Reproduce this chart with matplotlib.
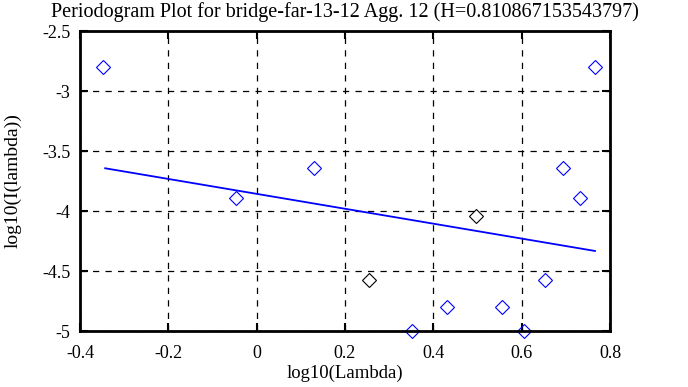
import matplotlib
matplotlib.use("Agg")
import matplotlib.pyplot as plt

plt.rcParams['font.family'] = ['Liberation Serif', 'DejaVu Serif']

# log10 frequency and log10 periodogram
log_lambda = [-0.348, -0.047, 0.129, 0.254, 0.351, 0.430, 0.497,
              0.555, 0.606, 0.652, 0.693, 0.731, 0.766]
log_I = [-2.80, -3.89, -3.64, -4.575, -5.00, -4.80, -4.04,
         -4.80, -5.00, -4.575, -3.64, -3.89, -2.80]
point_colors = ['blue', 'blue', 'blue', 'black', 'blue', 'blue', 'black',
                'blue', 'blue', 'blue', 'blue', 'blue', 'blue']

# fitted regression line end points
fit_x = [-0.343, 0.766]
fit_y = [-3.644, -4.333]

xticks = [-0.4, -0.2, 0, 0.2, 0.4, 0.6, 0.8]
yticks = [-5, -4.5, -4, -3.5, -3, -2.5]

fig = plt.figure(figsize=(6.88, 3.87), dpi=100)
ax = fig.add_axes([80/688, 1-331/387, 530/688, 300/387])

for x, y, c in zip(log_lambda, log_I, point_colors):
    ax.plot(x, y, 'D', ms=7, mfc='none', mec=c, mew=0.8, clip_on=False)
ax.plot(fit_x, fit_y, color='blue', lw=1.3)

ax.set_xlim(-0.4, 0.8)
ax.set_ylim(-5, -2.5)
ax.set_xticks(xticks)
ax.set_xticklabels(['-0.4', '-0.2', '0', '0.2', '0.4', '0.6', '0.8'])
ax.set_yticks(yticks)
ax.set_yticklabels(['-5', '-4.5', '-4', '-3.5', '-3', '-2.5'])
ax.grid(True, color='black', ls=(0, (5, 5)), lw=0.9)
ax.tick_params(direction='in', length=6, width=1.5, top=True, right=True,
               labelsize=13, colors='black')
ax.tick_params(axis='x', pad=10)
ax.tick_params(axis='y', pad=7)
for s in ax.spines.values():
    s.set_linewidth(2)

ax.set_xlabel('log10(Lambda)', fontsize=13.5, labelpad=2)
ax.set_ylabel('log10(I(lambda))', fontsize=14, labelpad=15)
ax.set_title('Periodogram Plot for bridge-far-13-12 Agg. 12 (H=0.810867153543797)',
             fontsize=14.5, pad=10)

fig.savefig('out.png', dpi=100)
